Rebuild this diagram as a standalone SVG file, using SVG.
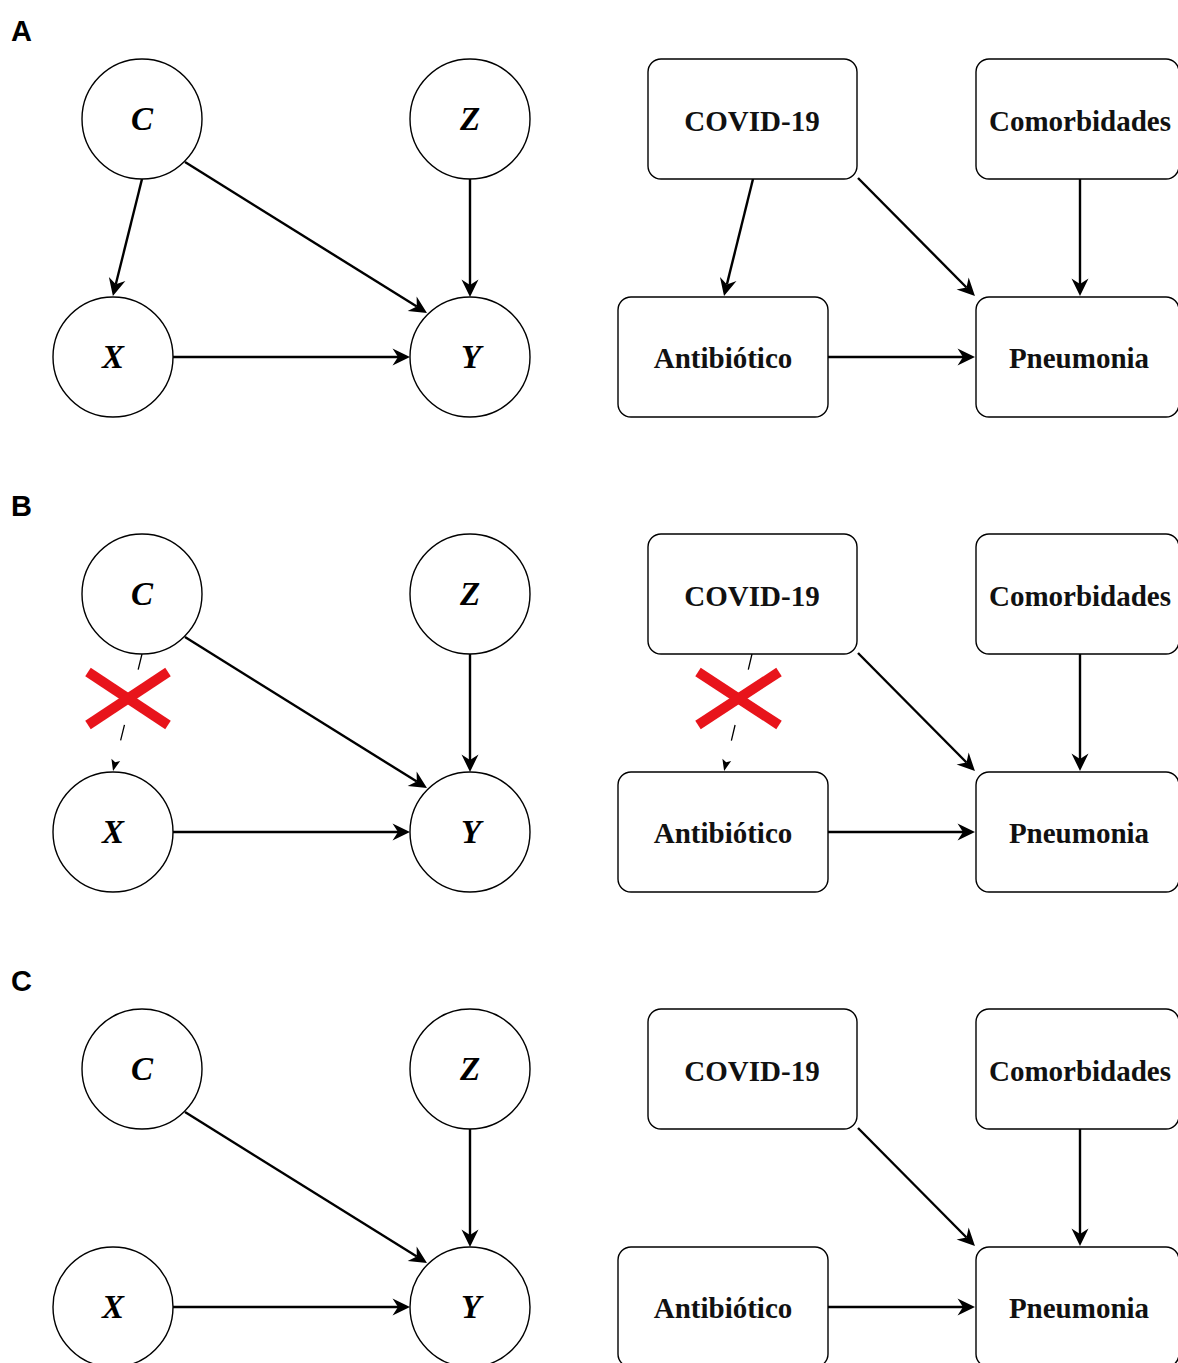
<svg xmlns="http://www.w3.org/2000/svg" width="1178" height="1363" viewBox="0 0 1178 1363">
  <style>
    .node { fill: #ffffff; stroke: #000000; stroke-width: 1.4; }
    .var { font-family: "Liberation Serif", "Times New Roman", serif; font-weight: bold; font-style: italic; font-size: 33px; text-anchor: middle; fill: #000000; }
    .lbl { font-family: "Liberation Serif", "Times New Roman", serif; font-weight: bold; font-size: 29px; text-anchor: middle; fill: #111111; }
    .panel { font-family: "Liberation Sans", Arial, sans-serif; font-weight: bold; font-size: 29px; fill: #000000; }
    .edge { fill: none; stroke: #000000; stroke-width: 2.4; marker-end: url(#head); }
    .cut { fill: none; stroke: #000000; stroke-width: 1.3; stroke-dasharray: 16 57 16 60; marker-end: url(#headSmall); }
    .cross { stroke: #e8141b; stroke-width: 10; stroke-linecap: butt; }
  </style>
  <defs>
    <!-- filled classic arrowhead; path end sits at the notch, tip 12px further -->
    <marker id="head" viewBox="-7 -10 20 20" markerUnits="userSpaceOnUse" markerWidth="20" markerHeight="20" refX="0" refY="0" orient="auto">
      <path d="M-5.5,-8.5 L12,0 L-5.5,8.5 L0,0 Z" fill="#000000"/>
    </marker>
    <marker id="headSmall" viewBox="-3 -5 13 10" markerUnits="userSpaceOnUse" markerWidth="13" markerHeight="10" refX="0" refY="0" orient="auto">
      <path d="M-2.5,-4.5 L9,0 L-2.5,4.5 L0,0 Z" fill="#000000"/>
    </marker>
  </defs>

  <rect x="0" y="0" width="1178" height="1363" fill="#ffffff"/>

  <!-- ===== Panel A ===== -->
  <g id="panel-a">
    <text class="panel" x="11" y="41">A</text>
    <g id="a-edges">
      <path class="edge" d="M142,179 L115.8,284.3"/>
      <path class="edge" d="M185,162 L416.8,306.6"/>
      <path class="edge" d="M470,179 L470,285"/>
      <path class="edge" d="M173,357 L398,357"/>
      <path class="edge" d="M753,179 L726.9,284.4"/>
      <path class="edge" d="M858,178 L966.5,287.5"/>
      <path class="edge" d="M1080,179 L1080,284"/>
      <path class="edge" d="M828,357 L963,357"/>
    </g>
    <g id="a-C"><circle class="node" cx="142" cy="119" r="60"/><text class="var" x="142" y="130">C</text></g>
    <g id="a-Z"><circle class="node" cx="470" cy="119" r="60"/><text class="var" x="470" y="130">Z</text></g>
    <g id="a-X"><circle class="node" cx="113" cy="357" r="60"/><text class="var" x="113" y="368">X</text></g>
    <g id="a-Y"><circle class="node" cx="470" cy="357" r="60"/><text class="var" x="471" y="368">Y</text></g>
    <g id="a-covid"><rect class="node" x="648" y="59" width="209" height="120" rx="13"/><text class="lbl" x="752" y="131">COVID-19</text></g>
    <g id="a-comorb"><rect class="node" x="976" y="59" width="203" height="120" rx="13"/><text class="lbl" x="1080" y="131">Comorbidades</text></g>
    <g id="a-antib"><rect class="node" x="618" y="297" width="210" height="120" rx="13"/><text class="lbl" x="723" y="368">Antibiótico</text></g>
    <g id="a-pneu"><rect class="node" x="976" y="297" width="203" height="120" rx="13"/><text class="lbl" x="1079" y="368">Pneumonia</text></g>
  </g>

  <!-- ===== Panel B ===== -->
  <g id="panel-b" transform="translate(0,475)">
    <text class="panel" x="11" y="41">B</text>
    <g id="b-edges">
      <path class="cut" d="M142,179 L115.2,287.3"/>
      <path class="edge" d="M185,162 L416.8,306.6"/>
      <path class="edge" d="M470,179 L470,285"/>
      <path class="edge" d="M173,357 L398,357"/>
      <path class="cut" d="M752,179 L726.2,287.3"/>
      <path class="edge" d="M858,178 L966.5,287.5"/>
      <path class="edge" d="M1080,179 L1080,284"/>
      <path class="edge" d="M828,357 L963,357"/>
    </g>
    <g id="b-C"><circle class="node" cx="142" cy="119" r="60"/><text class="var" x="142" y="130">C</text></g>
    <g id="b-Z"><circle class="node" cx="470" cy="119" r="60"/><text class="var" x="470" y="130">Z</text></g>
    <g id="b-X"><circle class="node" cx="113" cy="357" r="60"/><text class="var" x="113" y="368">X</text></g>
    <g id="b-Y"><circle class="node" cx="470" cy="357" r="60"/><text class="var" x="471" y="368">Y</text></g>
    <g id="b-covid"><rect class="node" x="648" y="59" width="209" height="120" rx="13"/><text class="lbl" x="752" y="131">COVID-19</text></g>
    <g id="b-comorb"><rect class="node" x="976" y="59" width="203" height="120" rx="13"/><text class="lbl" x="1080" y="131">Comorbidades</text></g>
    <g id="b-antib"><rect class="node" x="618" y="297" width="210" height="120" rx="13"/><text class="lbl" x="723" y="368">Antibiótico</text></g>
    <g id="b-pneu"><rect class="node" x="976" y="297" width="203" height="120" rx="13"/><text class="lbl" x="1079" y="368">Pneumonia</text></g>
    <!-- red crosses marking the removed edges -->
    <g id="b-cross-left">
      <line class="cross" x1="88" y1="197" x2="168" y2="250"/>
      <line class="cross" x1="168" y1="197" x2="88" y2="250"/>
    </g>
    <g id="b-cross-right">
      <line class="cross" x1="698" y1="197" x2="779" y2="250"/>
      <line class="cross" x1="779" y1="197" x2="698" y2="250"/>
    </g>
  </g>

  <!-- ===== Panel C ===== -->
  <g id="panel-c" transform="translate(0,950)">
    <text class="panel" x="11" y="41">C</text>
    <g id="c-edges">
      <path class="edge" d="M185,162 L416.8,306.6"/>
      <path class="edge" d="M470,179 L470,285"/>
      <path class="edge" d="M173,357 L398,357"/>
      <path class="edge" d="M858,178 L966.5,287.5"/>
      <path class="edge" d="M1080,179 L1080,284"/>
      <path class="edge" d="M828,357 L963,357"/>
    </g>
    <g id="c-C"><circle class="node" cx="142" cy="119" r="60"/><text class="var" x="142" y="130">C</text></g>
    <g id="c-Z"><circle class="node" cx="470" cy="119" r="60"/><text class="var" x="470" y="130">Z</text></g>
    <g id="c-X"><circle class="node" cx="113" cy="357" r="60"/><text class="var" x="113" y="368">X</text></g>
    <g id="c-Y"><circle class="node" cx="470" cy="357" r="60"/><text class="var" x="471" y="368">Y</text></g>
    <g id="c-covid"><rect class="node" x="648" y="59" width="209" height="120" rx="13"/><text class="lbl" x="752" y="131">COVID-19</text></g>
    <g id="c-comorb"><rect class="node" x="976" y="59" width="203" height="120" rx="13"/><text class="lbl" x="1080" y="131">Comorbidades</text></g>
    <g id="c-antib"><rect class="node" x="618" y="297" width="210" height="120" rx="13"/><text class="lbl" x="723" y="368">Antibiótico</text></g>
    <g id="c-pneu"><rect class="node" x="976" y="297" width="203" height="120" rx="13"/><text class="lbl" x="1079" y="368">Pneumonia</text></g>
  </g>
</svg>
